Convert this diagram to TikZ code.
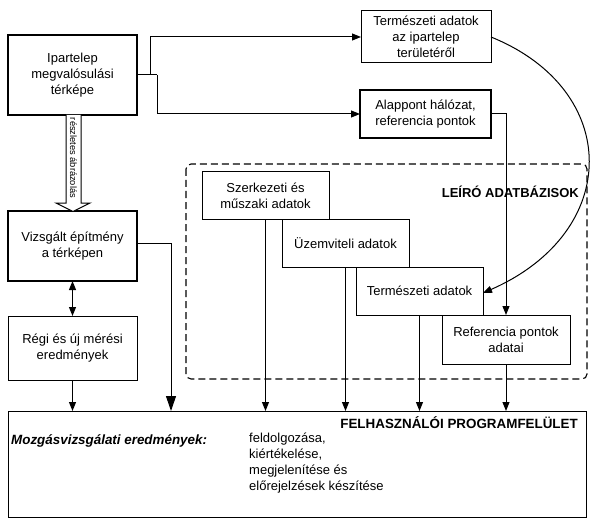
\documentclass[tikz,border=0pt]{standalone}
\usepackage{fontspec}
\setmainfont{Liberation Sans}
\usetikzlibrary{arrows.meta,calc}
\tikzset{
  box/.style={draw, fill=white, line width=1pt, inner sep=0pt, outer sep=0pt, align=center,
    font=\fontsize{13}{16}\selectfont},
  thickbox/.style={box, line width=2.8pt},
  conn/.style={draw, line width=1pt, -{Triangle[width=7pt,length=9pt]}},
  bigconn/.style={draw, line width=1pt, -{Triangle[width=10pt,length=15pt]}},
  plain/.style={draw, line width=1pt},
  lbl/.style={inner sep=0pt, font=\fontsize{13}{16}\selectfont},
}
\begin{document}
\begin{tikzpicture}[x=1pt,y=-1pt]
\useasboundingbox (0,0) rectangle (593,521);
% dashed database frame
\draw[line width=1.1pt, dash pattern=on 7pt off 4pt, rounded corners=5pt] (186,164) rectangle (587,379);
\node[lbl, font=\fontsize{13}{16}\selectfont\bfseries, anchor=east] (dbt) at (579,192) {LEÍRÓ ADATBÁZISOK};

% boxes
\node[thickbox, minimum width=129pt, minimum height=80pt] (ip) at (72.5,75) {Ipartelep\\megvalósulási\\térképe};
\node[box, minimum width=130pt, minimum height=52pt] (tz1) at (426,37) {Természeti adatok\\az ipartelep\\területéről};
\node[thickbox, minimum width=131pt, minimum height=48pt] (al) at (425.5,114) {Alappont hálózat,\\referencia pontok};
\node[thickbox, minimum width=129pt, minimum height=70pt] (vz) at (72.5,246) {Vizsgált építmény\\a térképen};
\node[box, minimum width=129pt, minimum height=64pt] (rg) at (72.5,348) {Régi és új mérési\\eredmények};
\node[box, minimum width=127pt, minimum height=47pt] (sz) at (265.5,195.5) {Szerkezeti és\\műszaki adatok};
\node[box, minimum width=127pt, minimum height=48pt] (uz) at (345.5,243) {Üzemviteli adatok};
\node[box, minimum width=127pt, minimum height=48pt] (tz2) at (419.5,291) {Természeti adatok};
\node[box, minimum width=128pt, minimum height=49pt] (rf) at (506,339.5) {Referencia pontok\\adatai};
\node[box, minimum width=578pt, minimum height=106pt] (fh) at (297,464) {};

% texts inside the bottom box
\node[lbl, font=\fontsize{13.4}{16}\selectfont\bfseries, anchor=east] (fht) at (578,423) {FELHASZNÁLÓI PROGRAMFELÜLET};
\node[lbl, font=\fontsize{13.4}{16}\selectfont\bfseries\itshape, anchor=west] (mz) at (11,441) {Mozgásvizsgálati eredmények:};
\node[lbl, anchor=north west, align=left] (fd) at (249,433) {feldolgozása,\\kiértékelése,\\megjelenítése és\\előrejelzések készítése};

% hollow arrow with rotated label
\draw[line width=1pt, fill=white] (66,115) -- (66,203) -- (56,203) -- (73,211.5) -- (90,203) -- (81,203) -- (81,115);
\node[lbl, font=\fontsize{9.3}{10}\selectfont, rotate=-90] (ra) at (73.5,158) {részletes ábrázolás};

% connectors from Ipartelep
\coordinate (j1) at (150,75);
\coordinate (j2) at (157,75);
\draw[plain] (ip.east) -- (j2);
\draw[conn] (j1) |- (tz1.west);
\draw[conn] (j2) |- (al.west);
\draw[conn] (al.east) -| (rf.north);
\draw[conn] (tz1.east) .. controls (622,90) and (622,232) .. ([yshift=-2pt]tz2.east);

% vertical connectors to the bottom box
\coordinate (c171) at (171,411);
\draw[bigconn] ([yshift=3pt]vz.east) -| (c171);
\draw[{Triangle[width=7pt,length=9pt]}-{Triangle[width=7pt,length=9pt]}, line width=1pt] (vz.south) -- (rg.north);
\draw[conn] (rg.south) -- (rg.south |- fh.north);
\draw[conn] (sz.south) -- (sz.south |- fh.north);
\draw[conn] (uz.south) -- (uz.south |- fh.north);
\draw[conn] (tz2.south) -- (tz2.south |- fh.north);
\draw[conn] (rf.south) -- (rf.south |- fh.north);
\end{tikzpicture}
\end{document}
